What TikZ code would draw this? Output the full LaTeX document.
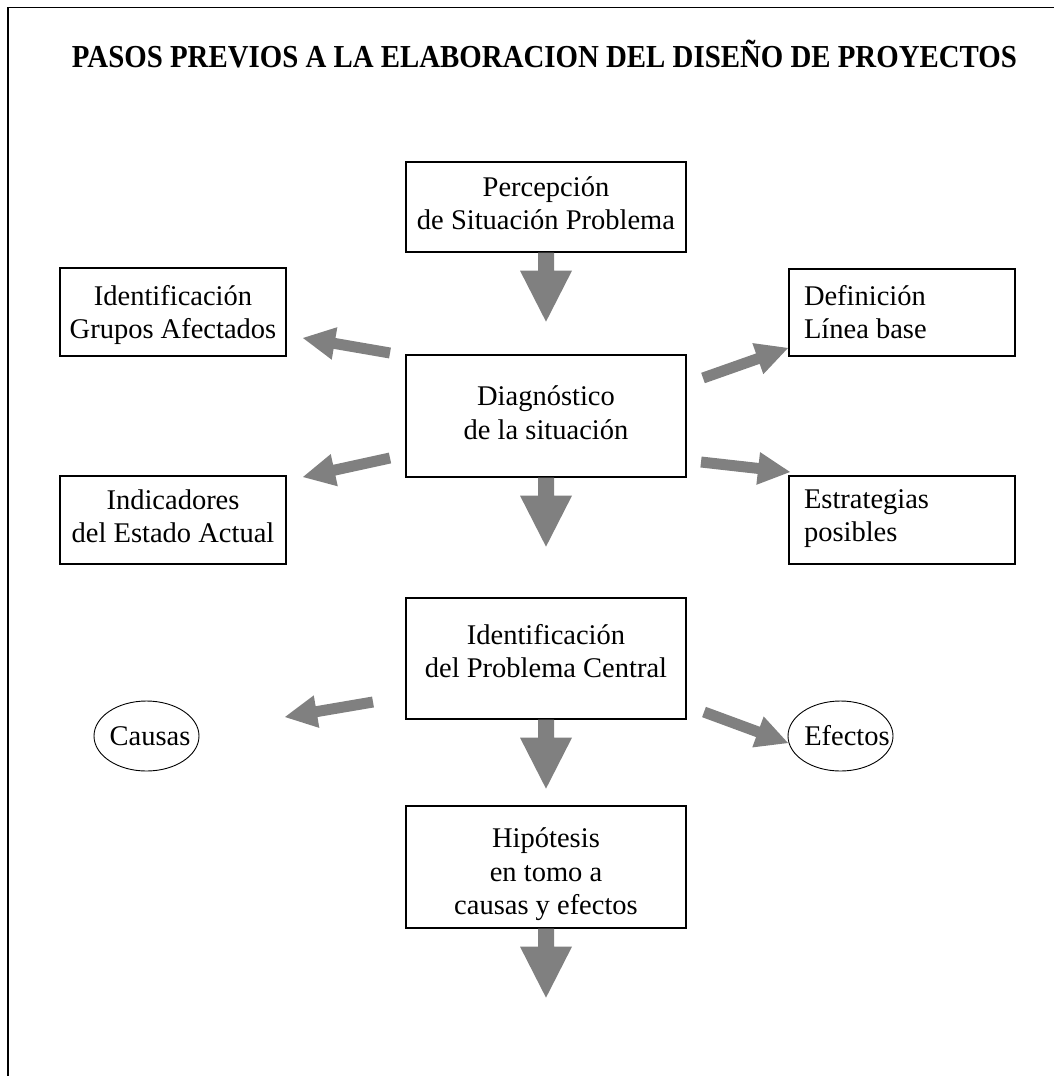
\documentclass[tikz,border=0pt]{standalone}
\usepackage{fontspec}
\setmainfont{Liberation Serif}
\usepackage{graphicx}
\usetikzlibrary{calc,shapes.geometric}
\definecolor{arrowgray}{RGB}{128,128,128}
% text helpers: raise first baseline by #1 pt above the node centre
\newcommand\bxc[2]{\raisebox{#1pt}[0pt][0pt]{\begin{tabular}[t]{@{}c@{}}#2\end{tabular}}}
\newcommand\bxl[2]{\raisebox{#1pt}[0pt][0pt]{\begin{tabular}[t]{@{}p{196pt}@{}}#2\end{tabular}}}
\newcommand\bxe[2]{\raisebox{#1pt}[0pt][0pt]{\makebox[0pt]{#2}}}
% block arrow: tail, tip, shaft half width, head half width, head length
\newcommand\blockarrow[5]{%
  \coordinate (ba-h) at ($(#2)!#5!(#1)$);
  \fill[blockfill] ($(#1)!#3!90:(#2)$) -- ($(ba-h)!#3!90:(#2)$) -- ($(ba-h)!#4!90:(#2)$) -- (#2)
    -- ($(ba-h)!#4!-90:(#2)$) -- ($(ba-h)!#3!-90:(#2)$) -- ($(#1)!#3!-90:(#2)$) -- cycle;}
\tikzset{
  txtfont/.style={font=\fontsize{28.5}{33.5}\selectfont},
  stepbox/.style={draw, line width=1.3pt, inner sep=0pt, minimum width=280pt, minimum height=#1, txtfont},
  sidebox/.style={draw, line width=1.3pt, inner sep=0pt, minimum width=226pt, minimum height=88pt, txtfont},
  leftbox/.style={sidebox, inner xsep=15pt},
  oval/.style={ellipse, draw, line width=0.9pt, inner sep=0pt, minimum width=105pt, minimum height=70pt, txtfont},
  blockfill/.style={fill=arrowgray},
  frameline/.style={line width=1.5pt}
}
\begin{document}
\begin{tikzpicture}[x=1pt,y=-1pt]
\useasboundingbox (0,0) rectangle (1054,1076);
\draw[frameline] (8,1076) -- (8,7.5) -- (1054,7.5);

\node (title) [font=\fontsize{32}{36}\selectfont\bfseries, anchor=base, inner sep=0pt] at (544.5,67)
  {\resizebox{945pt}{\height}{PASOS PREVIOS A LA ELABORACION DEL DISEÑO DE PROYECTOS}};

\node (percep)  [stepbox=90pt]  at (546,207)   {\bxc{11}{Percepción\\de Situación Problema}};
\node (diag)    [stepbox=122pt] at (546,416)   {\bxc{10.3}{Diagnóstico\\de la situación}};
\node (central) [stepbox=121pt] at (546,658.5) {\bxc{14.2}{Identificación\\del Problema Central}};
\node (hipo)    [stepbox=122pt] at (546,867)   {\bxc{19.3}{Hipótesis\\en tomo a\\causas y efectos}};

\node (grupos)  [sidebox] at (173,312) {\bxc{7}{Identificación\\ Grupos Afectados}};
\node (indic)   [sidebox] at (173,520) {\bxc{10.7}{Indicadores\\del Estado Actual}};
\node (defin)   [leftbox, minimum height=87pt] at (902,312.5) {\bxl{7.5}{Definición\\Línea base}};
\node (estrat)  [leftbox] at (902,520) {\bxl{11.7}{Estrategias\\posibles}};

\node (causas)  [oval] at (146.5,736) {\bxe{-9}{\hspace*{7pt}Causas}};
\node (efectos) [oval] at (840.5,736) {\bxe{-9}{\hspace*{13pt}Efectos}};

% vertical arrow tips
\coordinate (t1) at ($(percep.south)+(0,69)$);
\coordinate (t2) at ($(diag.south)+(0,69)$);
\coordinate (t3) at ($(central.south)+(0,69)$);
\coordinate (t4) at ($(hipo.south)+(0,69)$);
\blockarrow{percep.south}{t1}{8pt}{26pt}{51pt}
\blockarrow{diag.south}{t2}{8pt}{26pt}{51pt}
\blockarrow{central.south}{t3}{8pt}{26pt}{51pt}
\blockarrow{hipo.south}{t4}{8pt}{26pt}{51pt}

% diagonal arrows
\coordinate (gl-a) at (390,353); \coordinate (gl-b) at (303,338);
\coordinate (il-a) at (390,458); \coordinate (il-b) at (303,477);
\coordinate (dr-a) at (703,378); \coordinate (dr-b) at (788,348);
\coordinate (er-a) at (701,462); \coordinate (er-b) at (790,472);
\coordinate (cl-a) at (373,702); \coordinate (cl-b) at (285,717);
\coordinate (ef-a) at (704,712); \coordinate (ef-b) at (788,743);
\blockarrow{gl-a}{gl-b}{5.5pt}{16.5pt}{32pt}
\blockarrow{il-a}{il-b}{5.5pt}{16.5pt}{32pt}
\blockarrow{dr-a}{dr-b}{5.5pt}{16.5pt}{32pt}
\blockarrow{er-a}{er-b}{5.5pt}{16.5pt}{32pt}
\blockarrow{cl-a}{cl-b}{5.5pt}{16.5pt}{32pt}
\blockarrow{ef-a}{ef-b}{5.5pt}{16.5pt}{32pt}
\end{tikzpicture}
\end{document}
